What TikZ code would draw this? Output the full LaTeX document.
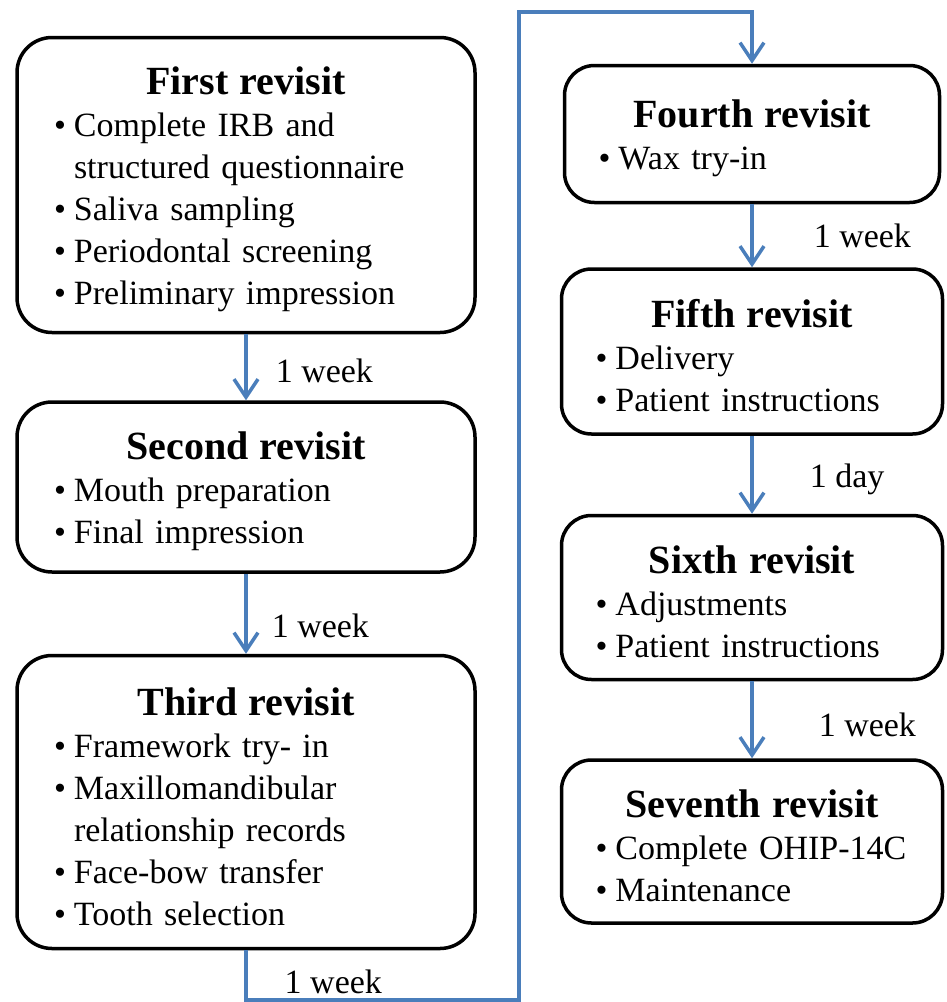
\documentclass[tikz,border=0pt]{standalone}
\usepackage{fontspec}
\setmainfont{Liberation Serif}
\usepackage{tikz}
\usetikzlibrary{positioning}
\usetikzlibrary{arrows.meta}
\definecolor{flowblue}{RGB}{74,126,187}
\newcommand{\visithead}[1]{{\centering\fontsize{40}{44}\selectfont\bfseries\rule{0pt}{37pt}#1\par}}
\newcommand{\visititem}[1]{\par\hangindent=20pt\hangafter=1\makebox[20pt][l]{\textbullet}#1}

\begin{document}
\begin{tikzpicture}[x=1pt, y=1pt,
    every node/.style = {font=\fontsize{34}{42}\selectfont},
    visit/.style = {draw, line width=3.5pt, align=left, inner ysep=0pt},
    leftbox/.style = {visit, rounded corners=35pt, text width=384pt, inner xsep=37pt},
    rightbox/.style = {visit, rounded corners=30pt, text width=313pt, inner xsep=34pt},
    gap/.style = {inner sep=2pt},
    flow/.style = {draw=flowblue, line width=3.5pt, -{Straight Barb[length=18pt, width=24pt]}}
    ]
    \useasboundingbox (0,0) rectangle (946,-1002);
    % left column
    \node[leftbox, minimum height=295pt] (1) at (246,-185) {\visithead{First revisit}
        \visititem{Complete IRB and\newline structured questionnaire}
        \visititem{Saliva sampling}
        \visititem{Periodontal screening}
        \visititem{Preliminary impression}};
    \node[leftbox, minimum height=170pt] (2) [below=66pt of 1] {\visithead{Second revisit}
        \visititem{Mouth preparation}
        \visititem{Final impression}};
    \node[leftbox, minimum height=293pt] (3) [below=80pt of 2] {\visithead{Third revisit}
        \visititem{Framework try- in}
        \visititem{Maxillomandibular\newline relationship records}
        \visititem{Face-bow transfer}
        \visititem{Tooth selection}};
    % right column
    \node[rightbox, text width=307pt, minimum height=137pt] (4) at (752,-134) {\visithead{Fourth revisit}
        \visititem{Wax try-in}};
    \node[rightbox, minimum height=165pt] (5) [below=63pt of 4] {\visithead{Fifth revisit}
        \visititem{Delivery}
        \visititem{Patient instructions}};
    \node[rightbox, minimum height=164pt] (6) [below=78pt of 5] {\visithead{Sixth revisit}
        \visititem{Adjustments}
        \visititem{Patient instructions}};
    \node[rightbox, minimum height=163pt] (7) [below=77pt of 6] {\visithead{Seventh revisit}
        \visititem{Complete OHIP-14C}
        \visititem{Maintenance}};
    \coordinate (low) at (519,-1000);
    \coordinate (high) at (519,-12);
    \draw[flow] (1) -- node[gap, right=26pt, yshift=-4pt] (1a) {1 week} (2);
    \draw[flow] (2) -- node[gap, right=22pt, yshift=-12pt] (2a) {1 week} (3);
    \draw[flow] (3.south) |- node[gap, pos=0.66, above=2pt] (3a) {1 week} (low) -- (high) -| (4.north);
    \draw[flow] (4) -- node[gap, right=58pt] (4a) {1 week} (5);
    \draw[flow] (5) -- node[gap, right=54pt, yshift=-5pt] (5a) {1 day} (6);
    \draw[flow] (6) -- node[gap, right=63pt, yshift=-5pt] (6a) {1 week} (7);
\end{tikzpicture}
\end{document}
